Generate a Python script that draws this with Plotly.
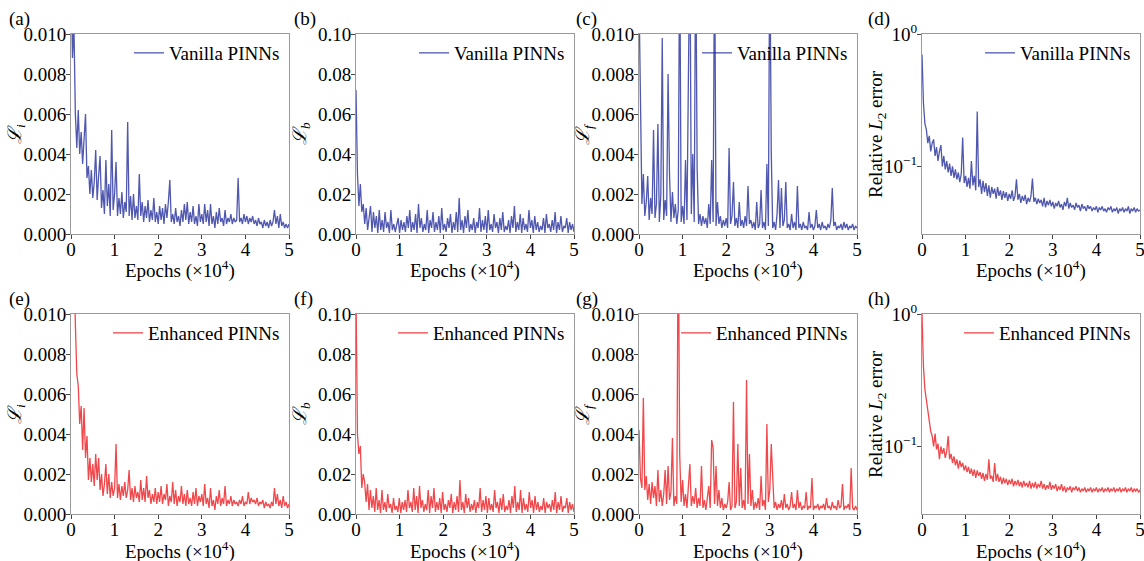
import numpy as np
import plotly.graph_objects as go

# ---------------- data ----------------
# loss values in units of 1e-3, epochs evenly spaced over 0..5 (x10^4)
vanilla_Li = [14, 8.8, 10.5, 6.0, 4.3, 6.2, 4.0, 5.1, 3.5, 4.8, 6.0, 2.8, 3.4, 2.0, 3.2, 1.8, 2.6, 4.2, 1.7, 2.9,
              3.9, 1.3, 2.2, 1.0, 3.7, 1.4, 2.5, 0.9, 5.2, 1.2, 2.0, 3.6, 0.9, 1.8, 1.0, 2.1, 0.8, 1.6, 1.1, 5.6,
              0.9, 1.9, 0.7, 2.0, 0.8, 1.4, 0.7, 3.0, 0.9, 1.6, 0.6, 1.4, 0.8, 1.7, 0.6, 1.2, 0.7, 1.8, 0.6, 1.1,
              0.5, 1.4, 0.7, 1.3, 0.5, 1.5, 0.8, 1.6, 2.7, 0.6, 1.0, 0.5, 1.3, 0.6, 0.9, 0.4, 1.2, 0.6, 1.5, 0.7,
              1.6, 0.5, 1.1, 0.6, 1.4, 0.5, 0.9, 0.4, 1.5, 0.6, 1.0, 0.5, 1.5, 0.6, 1.2, 0.4, 1.5, 0.5, 0.9, 0.3,
              1.1, 0.5, 1.3, 0.6, 0.8, 0.4, 1.2, 0.5, 0.8, 0.6, 1.0, 0.5, 0.8, 0.6, 0.7, 2.8, 0.6, 0.8, 0.5, 1.0,
              0.6, 0.9, 0.5, 0.8, 0.6, 0.9, 0.5, 0.7, 0.4, 0.8, 0.5, 0.6, 0.3, 0.7, 0.4, 0.6, 0.3, 0.7, 0.4, 0.6,
              1.2, 0.5, 0.9, 0.3, 1.0, 0.4, 0.6, 0.3, 0.5, 0.3, 0.5]

enhanced_Li = [30, 20, 13, 9.5, 7.0, 6.4, 4.5, 5.4, 3.2, 5.3, 2.8, 3.9, 1.7, 2.8, 1.6, 2.5, 1.4, 3.0, 1.7, 2.8,
               1.2, 2.0, 0.9, 1.5, 2.5, 1.0, 2.0, 0.8, 1.6, 0.9, 1.3, 3.5, 0.8, 1.5, 0.7, 1.4, 0.9, 1.6, 0.8, 1.2,
               2.2, 0.7, 1.3, 0.6, 1.4, 0.8, 1.1, 0.6, 1.7, 0.7, 1.3, 0.6, 1.9, 0.8, 1.2, 0.5, 1.0, 0.6, 1.3, 0.5,
               1.1, 0.6, 1.4, 0.5, 1.0, 0.7, 1.5, 0.4, 0.9, 0.6, 1.6, 0.5, 1.2, 0.4, 0.9, 0.6, 1.4, 0.5, 1.0, 0.4,
               1.2, 0.5, 0.8, 0.4, 1.1, 0.5, 1.3, 0.4, 0.9, 0.6, 1.0, 0.4, 1.5, 0.5, 0.8, 0.3, 1.3, 0.4, 0.7, 0.2,
               0.9, 0.5, 1.2, 0.4, 0.8, 0.5, 1.4, 0.4, 0.7, 0.5, 0.9, 0.4, 0.7, 0.5, 0.6, 0.4, 0.7, 0.5, 0.9, 0.4,
               0.6, 0.5, 1.1, 0.5, 0.8, 0.6, 0.7, 0.5, 0.8, 0.4, 0.6, 0.5, 0.7, 0.3, 0.6, 0.4, 0.5, 0.3, 0.6, 0.4,
               1.3, 0.5, 1.0, 0.4, 0.7, 0.3, 0.9, 0.4, 0.6, 0.3, 0.5]

vanilla_Lb = [72, 30, 14, 25, 11, 15, 5, 13, 2, 9, 14, 1, 11, 3, 9, 0.5, 12, 2, 7, 1, 11, 3, 6, 0.5, 12, 2, 5, 1,
              4, 8, 0.5, 7, 2, 6, 1, 9, 3, 12, 1, 6, 2, 10, 0.5, 15, 3, 8, 1, 5, 2, 12, 0.5, 7, 3, 11, 1, 6, 2, 9,
              0.5, 13, 2, 5, 1, 8, 3, 10, 0.5, 6, 2, 11, 1, 18, 2, 7, 0.5, 9, 3, 12, 1, 5, 2, 8, 0.5, 6, 3, 13, 1,
              7, 2, 9, 0.5, 12, 2, 5, 1, 10, 3, 6, 0.5, 8, 2, 11, 1, 4, 2, 7, 0.5, 9, 3, 14, 1, 6, 2, 10, 0.5, 8,
              2, 5, 1, 12, 3, 7, 0.5, 9, 2, 6, 1, 4, 2, 8, 0.5, 10, 3, 5, 1, 7, 2, 11, 0.5, 6, 2, 9, 1, 4, 3, 8,
              0.5, 6, 2, 5, 1]

enhanced_Lb = [110, 40, 30, 34, 13, 20, 16, 6, 15, 2, 12, 3, 9, 1, 13, 2, 7, 0.5, 12, 2, 6, 1, 10, 3, 5, 0.5, 8, 2,
               4, 1, 8, 0.5, 6, 2, 7, 1, 12, 3, 6, 1, 13, 2, 9, 0.5, 14, 3, 7, 1, 5, 2, 12, 0.5, 9, 3, 13, 1, 6, 2,
               8, 0.5, 11, 2, 5, 1, 7, 3, 10, 0.5, 6, 2, 9, 1, 17, 2, 6, 0.5, 10, 3, 8, 1, 5, 2, 7, 0.5, 6, 3, 13,
               1, 7, 2, 9, 0.5, 8, 2, 5, 1, 12, 3, 6, 0.5, 8, 2, 10, 1, 4, 2, 7, 0.5, 9, 3, 14, 1, 6, 2, 12, 0.5,
               8, 2, 5, 1, 11, 3, 7, 0.5, 9, 2, 6, 1, 4, 2, 8, 0.5, 6, 3, 5, 1, 7, 2, 11, 0.5, 6, 2, 9, 1, 4, 3, 8,
               0.5, 6, 2, 5, 1]

vanilla_Lf = [12, 5.0, 1.5, 3.0, 0.9, 1.6, 2.9, 0.7, 1.8, 1.0, 5.2, 0.8, 1.5, 5.5, 0.6, 1.9, 9.8, 0.7, 1.7, 0.9,
              8.0, 3.0, 0.6, 2.1, 0.8, 1.5, 0.5, 1.2, 15, 0.6, 1.4, 0.5, 3.7, 0.7, 9.7, 15, 1.0, 4.0, 0.6, 15,
              3.3, 0.5, 1.0, 0.4, 0.9, 0.5, 0.8, 0.3, 1.5, 0.5, 3.7, 0.6, 15, 0.4, 1.6, 0.5, 0.9, 0.3, 0.7, 0.4,
              0.8, 0.3, 4.3, 0.5, 0.9, 2.6, 0.4, 0.8, 0.3, 1.6, 0.4, 0.7, 0.3, 0.9, 0.4, 2.4, 0.5, 0.7, 0.3, 0.6,
              0.2, 1.6, 0.3, 0.5, 2.2, 0.3, 0.6, 0.2, 3.5, 0.4, 15, 4.1, 0.3, 0.6, 0.2, 1.0, 2.7, 0.3, 2.3, 0.4,
              0.7, 2.6, 0.3, 0.5, 0.2, 1.0, 0.3, 0.6, 0.2, 2.4, 0.3, 0.5, 0.2, 0.6, 0.3, 0.4, 0.2, 1.1, 0.3, 0.5,
              0.2, 0.4, 1.2, 0.3, 0.5, 0.2, 0.6, 0.3, 0.4, 0.2, 0.5, 0.3, 0.7, 2.3, 0.4, 0.6, 0.2, 0.4, 0.3, 0.5,
              0.2, 0.6, 0.3, 0.5, 0.2, 0.4, 0.3, 0.5, 0.2, 0.4, 0.3]

enhanced_Lf = [4.2, 1.8, 1.3, 5.8, 1.2, 1.9, 0.7, 1.5, 0.5, 1.6, 0.8, 1.4, 0.4, 2.2, 0.6, 1.2, 0.4, 1.0, 2.2, 0.5,
               2.4, 0.7, 1.1, 3.8, 0.4, 0.9, 0.5, 15, 3.0, 0.6, 1.7, 0.4, 1.0, 0.3, 1.4, 2.5, 0.4, 0.9, 0.5, 1.3,
               0.3, 0.8, 0.4, 2.4, 0.3, 0.7, 0.2, 1.0, 1.4, 0.3, 3.7, 3.3, 0.5, 2.4, 0.4, 1.2, 0.3, 0.8, 0.2, 0.5,
               0.3, 0.6, 1.6, 0.2, 0.4, 5.6, 0.3, 0.6, 3.5, 0.4, 2.3, 0.3, 0.7, 0.2, 6.7, 0.5, 3.0, 0.4, 1.2, 0.2,
               0.6, 0.3, 0.8, 0.2, 1.9, 0.4, 0.7, 0.2, 4.5, 0.6, 1.2, 3.5, 1.5, 0.3, 0.6, 0.2, 0.5, 0.3, 0.7, 0.2,
               1.0, 0.3, 0.5, 0.2, 0.4, 1.1, 0.3, 0.5, 0.2, 1.2, 0.3, 0.6, 0.2, 0.4, 0.3, 1.1, 0.2, 0.4, 0.3, 1.8,
               0.2, 0.4, 0.3, 0.5, 0.2, 0.4, 0.3, 0.5, 0.2, 0.8, 0.3, 0.4, 0.2, 0.6, 0.3, 0.4, 0.2, 0.7, 0.3, 0.4,
               1.5, 0.2, 0.4, 0.3, 0.5, 0.2, 2.3, 0.3, 0.2, 0.4, 0.2]

vanilla_L2 = [0.70, 0.30, 0.21, 0.19, 0.15, 0.17, 0.13, 0.15, 0.16, 0.12, 0.14, 0.11, 0.13, 0.145, 0.10, 0.12,
              0.095, 0.11, 0.09, 0.105, 0.085, 0.10, 0.082, 0.095, 0.08, 0.09, 0.076, 0.088, 0.165, 0.075, 0.085,
              0.07, 0.082, 0.068, 0.11, 0.072, 0.085, 0.066, 0.26, 0.07, 0.08, 0.062, 0.078, 0.064, 0.075, 0.06,
              0.072, 0.058, 0.07, 0.062, 0.068, 0.057, 0.07, 0.06, 0.066, 0.056, 0.065, 0.058, 0.064, 0.055, 0.062,
              0.057, 0.066, 0.055, 0.06, 0.08, 0.056, 0.062, 0.053, 0.06, 0.055, 0.061, 0.052, 0.058, 0.054, 0.06,
              0.081, 0.054, 0.058, 0.052, 0.057, 0.053, 0.056, 0.05, 0.058, 0.049, 0.055, 0.051, 0.056, 0.05, 0.054,
              0.048, 0.053, 0.05, 0.055, 0.049, 0.052, 0.047, 0.054, 0.05, 0.058, 0.048, 0.053, 0.049, 0.051, 0.047,
              0.053, 0.049, 0.051, 0.046, 0.052, 0.048, 0.05, 0.046, 0.051, 0.048, 0.05, 0.046, 0.049, 0.047, 0.05,
              0.045, 0.049, 0.047, 0.05, 0.046, 0.048, 0.045, 0.049, 0.047, 0.05, 0.045, 0.048, 0.046, 0.049, 0.044,
              0.048, 0.046, 0.049, 0.045, 0.048, 0.046, 0.05, 0.044, 0.048, 0.046, 0.049, 0.045, 0.048, 0.046, 0.047]

enhanced_L2 = [1.0, 0.40, 0.27, 0.22, 0.18, 0.16, 0.13, 0.12, 0.10, 0.125, 0.095, 0.105, 0.08, 0.10, 0.088, 0.097,
               0.082, 0.092, 0.12, 0.08, 0.088, 0.075, 0.084, 0.072, 0.08, 0.068, 0.078, 0.07, 0.075, 0.066, 0.072,
               0.064, 0.07, 0.062, 0.068, 0.06, 0.067, 0.058, 0.066, 0.06, 0.064, 0.057, 0.063, 0.055, 0.062, 0.056,
               0.08, 0.057, 0.06, 0.054, 0.075, 0.055, 0.062, 0.054, 0.059, 0.052, 0.058, 0.053, 0.057, 0.051, 0.056,
               0.052, 0.057, 0.05, 0.055, 0.051, 0.056, 0.05, 0.054, 0.049, 0.055, 0.05, 0.053, 0.049, 0.055, 0.048,
               0.053, 0.049, 0.054, 0.048, 0.052, 0.049, 0.055, 0.048, 0.052, 0.047, 0.051, 0.048, 0.054, 0.047,
               0.051, 0.048, 0.052, 0.046, 0.05, 0.047, 0.052, 0.046, 0.05, 0.045, 0.049, 0.047, 0.05, 0.045, 0.049,
               0.047, 0.05, 0.046, 0.049, 0.045, 0.048, 0.046, 0.049, 0.045, 0.048, 0.046, 0.049, 0.045, 0.048,
               0.046, 0.049, 0.045, 0.048, 0.046, 0.049, 0.045, 0.048, 0.046, 0.049, 0.045, 0.048, 0.046, 0.049,
               0.045, 0.048, 0.046, 0.049, 0.045, 0.048, 0.046, 0.049, 0.045, 0.048, 0.046, 0.049, 0.045, 0.048,
               0.046, 0.048, 0.045, 0.047]

x_ticks = [0, 1, 2, 3, 4, 5]
panel_labels = ["(a)", "(b)", "(c)", "(d)", "(e)", "(f)", "(g)", "(h)"]
series_names = ["Vanilla PINNs", "Enhanced PINNs"]

# ---------------- styling / layout ----------------
W, H = 1144, 561
FONT = "Liberation Serif"
FS = 19
BLUE = "rgba(35,45,155,0.8)"
RED = "rgba(235,10,15,0.75)"

col_px = [(71, 289), (356, 574), (639, 857), (922, 1140)]
row_px = [(34, 234), (314, 514)]
label_left = [7, 292, 574, 866]

def px_x(p):
    return p / W

def px_y(p):
    return 1 - p / H

SCRIPT_L = "<span style='font-family:DejaVu Serif'><i>ℒ</i></span>"

panels = [
    dict(y=vanilla_Li, scale=1e-3, kind="lin3", ylab=SCRIPT_L + "<sub><i>i</i></sub>", name=series_names[0], color=BLUE),
    dict(y=vanilla_Lb, scale=1e-3, kind="lin2", ylab=SCRIPT_L + "<sub><i>b</i></sub>", name=series_names[0], color=BLUE),
    dict(y=vanilla_Lf, scale=1e-3, kind="lin3", ylab=SCRIPT_L + "<sub><i>f</i></sub>", name=series_names[0], color=BLUE),
    dict(y=vanilla_L2, scale=1.0, kind="log", ylab="Relative <i>L</i><sub>2</sub> error", name=series_names[0], color=BLUE),
    dict(y=enhanced_Li, scale=1e-3, kind="lin3", ylab=SCRIPT_L + "<sub><i>i</i></sub>", name=series_names[1], color=RED),
    dict(y=enhanced_Lb, scale=1e-3, kind="lin2", ylab=SCRIPT_L + "<sub><i>b</i></sub>", name=series_names[1], color=RED),
    dict(y=enhanced_Lf, scale=1e-3, kind="lin3", ylab=SCRIPT_L + "<sub><i>f</i></sub>", name=series_names[1], color=RED),
    dict(y=enhanced_L2, scale=1.0, kind="log", ylab="Relative <i>L</i><sub>2</sub> error", name=series_names[1], color=RED),
]

fig = go.Figure()
layout = dict(template="none", width=W, height=H, margin=dict(l=0, r=0, t=0, b=0, autoexpand=False),
              paper_bgcolor="white", plot_bgcolor="white",
              font=dict(family=FONT, size=FS, color="black"), showlegend=True)
annotations = []

for k, p in enumerate(panels):
    n = k + 1
    r, c = divmod(k, 4)
    x0, x1 = col_px[c]
    yt, yb = row_px[r]
    sfx = "" if n == 1 else str(n)
    yvals = np.array(p["y"], dtype=float) * p["scale"]
    xvals = np.linspace(0, 5, len(yvals))
    leg = "legend" + sfx
    fig.add_trace(go.Scatter(x=xvals, y=yvals, mode="lines", name=p["name"],
                             line=dict(color=p["color"], width=1.3),
                             xaxis="x" + sfx, yaxis="y" + sfx, legend=leg,
                             hoverinfo="skip"))
    common = dict(showline=True, linecolor="#9a9a9a", linewidth=1, mirror=True,
                  ticks="outside", ticklen=4, tickcolor="#444", tickwidth=1,
                  showgrid=False, zeroline=False, automargin=False,
                  ticklabeloverflow="allow",
                  tickfont=dict(family=FONT, size=FS, color="black"))
    layout["xaxis" + sfx] = dict(domain=[px_x(x0), px_x(x1)], anchor="y" + sfx,
                                 range=[0, 5], tickvals=x_ticks, ticktext=[str(t) for t in x_ticks],
                                 ticklabelstandoff=-6, **common)
    ya = dict(domain=[px_y(yb), px_y(yt)], anchor="x" + sfx, ticklabelstandoff=-4, **common)
    if p["kind"] == "lin3":
        ya.update(range=[0, 0.010], tickvals=[0, 0.002, 0.004, 0.006, 0.008, 0.010],
                  tickformat=".3f")
    elif p["kind"] == "lin2":
        ya.update(range=[0, 0.10], tickvals=[0, 0.02, 0.04, 0.06, 0.08, 0.10],
                  tickformat=".2f")
    else:
        ya.update(type="log", range=[-1.51, 0], tickvals=[0.1, 1],
                  ticktext=["10<sup>−1</sup>", "10<sup>0</sup>"])
    layout["yaxis" + sfx] = ya
    layout[leg] = dict(x=px_x(x1 - 4), y=px_y(yt + 19), xanchor="right", yanchor="middle",
                       bgcolor="rgba(0,0,0,0)", borderwidth=0, itemwidth=30,
                       font=dict(family=FONT, size=FS, color="black"))
    # axis titles
    annotations.append(dict(x=px_x((x0 + x1) / 2), y=px_y(yb + 36), xref="paper", yref="paper",
                            text="Epochs (×10<sup>4</sup>)", showarrow=False,
                            xanchor="center", yanchor="middle",
                            font=dict(family=FONT, size=FS, color="black")))
    ytitle_x = x0 - 56 if p["kind"] != "log" else x0 - 45
    annotations.append(dict(x=px_x(ytitle_x), y=px_y((yt + yb) / 2), xref="paper", yref="paper",
                            text=p["ylab"], showarrow=False, textangle=-90,
                            xanchor="center", yanchor="middle",
                            font=dict(family=FONT, size=FS, color="black")))
    # panel label
    annotations.append(dict(x=px_x(label_left[c]), y=px_y(yt - 15), xref="paper", yref="paper",
                            text=panel_labels[k], showarrow=False,
                            xanchor="left", yanchor="middle",
                            font=dict(family=FONT, size=FS, color="black")))

layout["annotations"] = annotations
fig.update_layout(**layout)
fig.write_html("out.html", config={"displayModeBar": False},
               post_script="document.body.style.margin='0';document.body.style.padding='0';")
